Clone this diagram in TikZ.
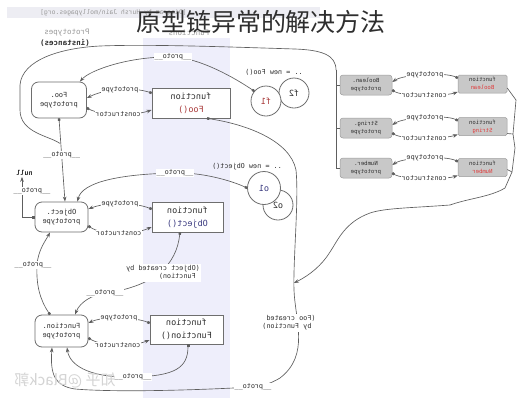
\documentclass[tikz,border=0pt]{standalone}
\usepackage{graphicx}
\usepackage{fontspec}
\setmonofont{DejaVu Sans Mono}
\newfontfamily\cjk{Noto Sans CJK SC}
\usetikzlibrary{arrows.meta,calc}
\definecolor{lc}{HTML}{5E5E5E}
\definecolor{bc}{HTML}{6E6E6E}
\definecolor{txt}{HTML}{2E2E2E}
\definecolor{hdr}{HTML}{9A9A9A}
\definecolor{band}{HTML}{EEEEFB}
\definecolor{topbar}{HTML}{EDEDF3}
\definecolor{fred}{HTML}{A83838}
\definecolor{fblue}{HTML}{3A3A80}
\definecolor{gfill}{HTML}{C8C8C8}
\definecolor{gbd}{HTML}{9C9C9C}
\definecolor{gred}{HTML}{E03C3C}
\definecolor{wmark}{HTML}{D4D4D4}
\newcommand\mr[1]{\reflectbox{#1}}
\newcommand\mrr[2]{\reflectbox{\begin{tabular}{@{}c@{}}#1\\#2\end{tabular}}}
\newcommand\mrl[2]{\reflectbox{\begin{tabular}{@{}l@{}}#1\\#2\end{tabular}}}
\newcommand\lblf{\ttfamily\fontsize{6.8}{8}\selectfont}
\newcommand\boxf{\ttfamily\fontsize{7}{9}\selectfont}
\newcommand\funcf{\ttfamily\fontsize{8.5}{13}\selectfont}
\newcommand\gf{\ttfamily\fontsize{5.6}{8}\selectfont}
\newcommand\pr{\_\_proto\_\_}
\tikzset{
  ln/.style={draw=lc, line width=0.65pt},
  e/.style={ln, {Square[length=2.4pt,width=2.4pt]}-{Stealth[length=5pt,width=3.6pt]}},
  ea/.style={ln, -{Stealth[length=5pt,width=3.6pt]}},
  lbl/.style={fill=white, inner sep=0.8pt, font=\lblf, text=txt},
  captxt/.style={fill=white, inner sep=0.8pt, font=\lblf, text=txt},
  pbox/.style={draw=bc, fill=white, rounded corners=7pt, line width=0.8pt, inner sep=0pt, font=\boxf, text=txt},
  fbox/.style={draw=bc, fill=white, line width=0.8pt, inner sep=0pt, font=\funcf, text=txt},
  circ/.style={circle, draw=bc, fill=white, line width=0.8pt, inner sep=0pt, font=\funcf, text=txt},
  gpbox/.style={draw=gbd, fill=gfill, rounded corners=3pt, line width=0.5pt, inner sep=0pt, font=\gf, text=txt},
  gfbox/.style={draw=gbd, fill=gfill, rounded corners=1.5pt, line width=0.5pt, inner sep=0pt, font=\gf, text=txt},
}
\begin{document}
\begin{tikzpicture}[x=1pt,y=-1pt]
\useasboundingbox (0,0) rectangle (523,400);
\fill[white] (0,0) rectangle (523,400);
\fill[band] (143,38) rectangle (230,398);
\fill[topbar] (7,7) rectangle (320,18);
\node[anchor=west, inner sep=0pt, font=\ttfamily\fontsize{6.4}{7}\selectfont, text=hdr] (credit) at (40,13) {\mr{[Diagram by Hursh Jain\textbackslash mollypages.org]}};
\node[font=\ttfamily\fontsize{7.5}{9}\selectfont, text=hdr] (hproto) at (67,33) {\mr{Prototypes}};
\node[font=\ttfamily\bfseries\fontsize{7.5}{9}\selectfont, text=txt] (hinst) at (65,43) {\mr{(instances)}};
\node[font=\ttfamily\fontsize{7.5}{9}\selectfont, text=hdr] (hfunc) at (189,33) {\mr{Functions}};

% main nodes
\node[pbox, minimum width=55pt, minimum height=36pt] (foop) at (59,100) {\mrr{Foo.}{prototype}};
\node[fbox, minimum width=78pt, minimum height=30pt] (foof) at (191,103) {\mrr{function}{\color{fred}Foo()}};
\node[circ, minimum size=30pt] (f2) at (294,93) {\mr{f2}};
\node[circ, minimum size=30pt] (f1) at (266,101) {\mr{\color{fred}f1}};
\node[font=\lblf, text=txt] (newfoo) at (274,72) {\mr{.. = new Foo()}};

\node[pbox, minimum width=53pt, minimum height=30pt] (objp) at (61.5,217) {\mrr{Object.}{prototype}};
\node[fbox, minimum width=71pt, minimum height=30pt] (objf) at (187.5,217) {\mrr{function}{\color{fblue}Object()}};
\node[circ, minimum size=30pt] (o2) at (278,205) {\mr{o2}};
\node[circ, minimum size=33pt] (o1) at (264,188) {\mr{\color{fblue}o1}};
\node[font=\lblf, text=txt] (newobj) at (247,167) {\mr{.. = new Object()}};
\node[font=\ttfamily\bfseries\fontsize{6.8}{8}\selectfont, text=txt, inner sep=1pt] (null) at (24.5,173) {\mr{null}};

\node[pbox, minimum width=53pt, minimum height=32pt] (funp) at (61.5,331) {\mrr{Function.}{prototype}};
\node[fbox, minimum width=73pt, minimum height=29pt] (funf) at (186.5,329.5) {\mrr{function}{Function()}};

% gray builtins
\node[gpbox, minimum width=52pt, minimum height=20pt] (boolp) at (366,85) {\mrr{Boolean.}{prototype}};
\node[gfbox, minimum width=49pt, minimum height=18pt] (bool) at (482.5,84) {\mrr{function}{\color{gred}Boolean}};
\node[gpbox, minimum width=52pt, minimum height=20pt] (strp) at (366,128) {\mrr{String.}{prototype}};
\node[gfbox, minimum width=49pt, minimum height=18pt] (str) at (482.5,126.5) {\mrr{function}{\color{gred}String}};
\node[gpbox, minimum width=52pt, minimum height=20pt] (nump) at (366,168) {\mrr{Number.}{prototype}};
\node[gfbox, minimum width=49pt, minimum height=18pt] (num) at (482.5,167.5) {\mrr{function}{\color{gred}Number}};

% prototype / constructor pairs
\draw[e] ([yshift=10pt]foof.west) .. controls +(-18,-6) and +(20,-10) .. node[lbl]{\mr{prototype}} ([yshift=2pt]foop.east);
\draw[e] ([yshift=-8pt]foop.east) .. controls +(15,8) and +(-18,6) .. node[lbl]{\mr{constructor}} ([yshift=-7pt]foof.west);
\draw[e] ([yshift=8pt]objf.west) .. controls +(-18,-7) and +(18,-7) .. node[lbl]{\mr{prototype}} ([yshift=8pt]objp.east);
\draw[e] ([yshift=-9pt]objp.east) .. controls +(15,10) and +(-18,8) .. node[lbl]{\mr{constructor}} ([yshift=-10pt]objf.west);
\draw[e] ([yshift=6.5pt]funf.west) .. controls +(-15,-6) and +(15,-7) .. node[lbl]{\mr{prototype}} ([yshift=8pt]funp.east);
\draw[e] ([yshift=-7pt]funp.east) .. controls +(15,9) and +(-18,7) .. node[lbl]{\mr{constructor}} ([yshift=-10.5pt]funf.west);
\foreach \f/\p in {bool/boolp,str/strp,num/nump}{
  \draw[e] ([yshift=6pt]\f.west) .. controls +(-12,-6) and +(12,-8) .. node[lbl]{\mr{prototype}} ([yshift=3pt]\p.east);
  \draw[e] ([yshift=-5pt]\p.east) .. controls +(10,7) and +(-12,4) .. node[lbl]{\mr{constructor}} ([yshift=-8pt]\f.west);
}

% bracket of builtin prototypes -> Object.prototype
\coordinate (bt) at (336,70);
\coordinate (j1) at ($(foop.south)!0.3!(objp.north)$);
\draw[ln] (nump.west) -- (nump.west -| bt) -- (bt);
\draw[ln] (boolp.west) -- (boolp.west -| bt);
\draw[ln] (strp.west) -- (strp.west -| bt);
\draw[ln] (bt) .. controls (336,55) and (322,50) .. (295,49) .. controls (230,47) and (150,44) .. (100,46) .. controls (60,48) and (22,60) .. (20,85) -- (20,110) .. controls (20,133) and (50,136) .. (j1);

% __proto__ links
\draw[e] (foop.south) -- node[lbl,pos=0.44]{\mr{\pr}} ([xshift=3.5pt]objp.north);
\draw[e] (f1.140) .. controls (235,78) and (200,58) .. (173,57) node[lbl]{\mr{\pr}} .. controls (130,56) and (90,70) .. ([xshift=-7pt]foop.north east);
\draw[e] (o1.west) .. controls (230,180) and (200,172) .. (175,173) node[lbl]{\mr{\pr}} .. controls (120,174) and (82,182) .. ([xshift=-11pt]objp.north east);
\draw[e] (objp.west) -| node[lbl,pos=0.82,xshift=10pt]{\mr{\pr}} ([xshift=-2.5pt]null.south);
\draw[e] ([xshift=-11.5pt]funp.north) .. controls (40,300) and (36,285) .. (37,265) node[lbl,xshift=-4pt]{\mr{\pr}} .. controls (38,250) and (46,240) .. ([xshift=-11.5pt]objp.south);
\draw[e] ([xshift=-7.5pt]objf.south) .. controls (178,250) and (172,262) .. (160,273) .. controls (148,282) and (130,290) .. (105,293) node[lbl]{\mr{\pr}} .. controls (92,295) and (80,302) .. ([xshift=13.5pt]funp.north);
\node[captxt] (objcap) at (163,273) {\mrl{(Object created by}{~Function)}};
\draw[e] ([xshift=1.5pt]funf.south) .. controls (188,368) and (175,376) .. (133,377) node[lbl]{\mr{\pr}} .. controls (95,378) and (70,368) .. ([xshift=5.5pt]funp.south);
\draw[e] ([xshift=16pt]foof.south) .. controls (245,124) and (290,140) .. (296,170) .. controls (299,200) and (293,260) .. (294,290) .. controls (295,320) and (310,355) .. (280,378) .. controls (270,384) and (262,386) .. (253,387) node[lbl]{\mr{\pr}} .. controls (180,391) and (110,392) .. (75,389) .. controls (55,386) and (50,375) .. ([xshift=-9.5pt]funp.south);
\node[captxt] (foocap) at (289,323) {\mrl{(Foo created}{~by Function)}};

% builtin functions -> Function.prototype (merge)
\coordinate (j2) at (294,283);
\draw[ea] ([yshift=-4pt]bool.east) -- (516,100) -- (513,134) -- (515,148) -- (512,172) -- (505,188) .. controls (490,197) and (470,198) .. (450,205) .. controls (410,208) and (385,208) .. (370,213) .. controls (345,222) and (338,240) .. (330,252) .. controls (322,265) and (310,275) .. (j2);
\draw[ln] ([yshift=-7pt]str.east) -- (513,134);
\draw[ln] ([yshift=-2pt]num.east) -- (512,172);

% watermark and title
\node[text=wmark, font=\cjk\fontsize{15}{17}\selectfont] (wm) at (65,380) {\mr{知乎 @Black郭}};
\node[text=txt, font=\cjk\fontsize{25}{28}\selectfont, inner sep=0pt] (title) at (261,22) {原型链异常的解决方法};
\end{tikzpicture}
\end{document}
